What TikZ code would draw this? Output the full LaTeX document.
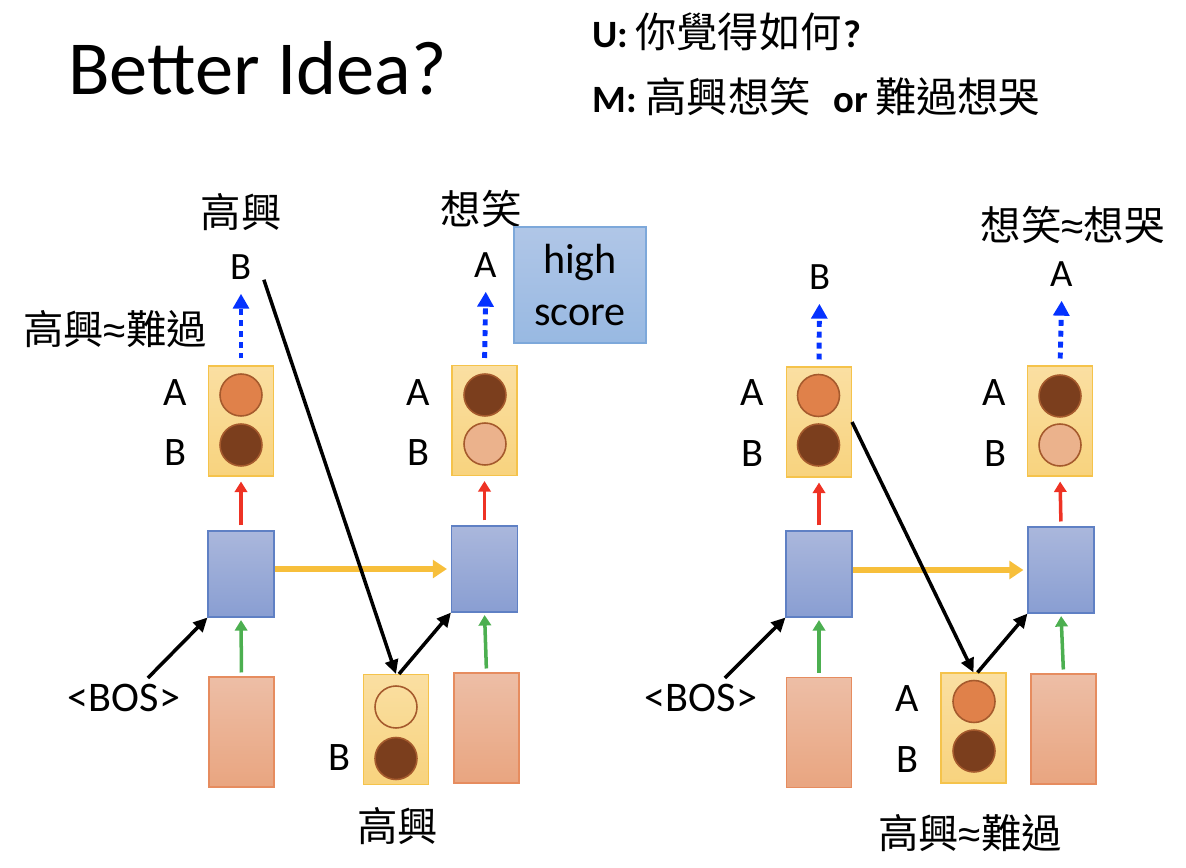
\documentclass[tikz,border=0pt]{standalone}
\usepackage{fontspec}
\setmainfont{Carlito}
\newfontfamily\cjk{Noto Sans CJK TC}
\newfontfamily\symfont{Liberation Sans}
\usetikzlibrary{arrows.meta}
\definecolor{ytop}{RGB}{250,223,162}
\definecolor{ybot}{RGB}{248,211,126}
\definecolor{yline}{RGB}{245,195,75}
\definecolor{btop}{RGB}{170,183,220}
\definecolor{bbot}{RGB}{137,158,210}
\definecolor{bline}{RGB}{95,128,196}
\definecolor{otop}{RGB}{237,190,166}
\definecolor{obot}{RGB}{233,165,128}
\definecolor{oline}{RGB}{230,140,95}
\definecolor{stop}{RGB}{176,198,231}
\definecolor{sbot}{RGB}{152,185,226}
\definecolor{sline}{RGB}{125,168,218}
\definecolor{cA}{RGB}{224,129,74}
\definecolor{cB}{RGB}{123,62,29}
\definecolor{cC}{RGB}{235,178,140}
\definecolor{cline}{RGB}{165,90,45}
\definecolor{arrblue}{RGB}{5,50,255}
\definecolor{arrred}{RGB}{238,50,36}
\definecolor{arrgreen}{RGB}{76,175,80}
\definecolor{arryellow}{RGB}{247,191,59}
\newcommand{\approxsign}{{\symfont ≈}}
\newcommand{\zhbig}[1]{{\fontsize{23.5}{28}\mdseries\cjk #1}}
\tikzset{
	ybox/.style={draw=yline, line width=0.6pt, top color=ytop, bottom color=ybot, minimum width=1.3cm, minimum height=2.2cm, inner sep=0},
	hbox/.style={draw=bline, line width=0.6pt, top color=btop, bottom color=bbot, minimum width=1.32cm, minimum height=1.72cm, inner sep=0},
	ebox/.style={draw=oline, line width=0.6pt, top color=otop, bottom color=obot, minimum width=1.3cm, minimum height=2.2cm, inner sep=0},
	scorebox/.style={draw=sline, line width=0.6pt, top color=stop, bottom color=sbot, minimum width=2.64cm, minimum height=2.32cm, align=center, font=\fontsize{24}{29.5}\selectfont},
	dot/.style={circle, draw=cline, line width=0.9pt, minimum size=0.84cm, inner sep=0},
	lbl/.style={font=\fontsize{23}{27}\selectfont, inner sep=0},
	outlbl/.style={font=\fontsize{22}{26}\selectfont, inner sep=0},
	zh/.style={font=\fontsize{23}{27}\selectfont\cjk, inner sep=0},
	bos/.style={font=\fontsize{24}{28}\selectfont},
	line/.style={anchor=base west, inner sep=0, font=\fontsize{22}{28}\selectfont\bfseries},
	toout/.style={draw=arrblue, line width=2.8pt, dash pattern=on 3.4pt off 2.8pt, -{Triangle[width=9pt,length=8.5pt]}, shorten <=0.14cm, shorten >=0.28cm},
	tohid/.style={draw=arrred, line width=2pt, -{Triangle[width=7pt,length=6pt]}, shorten <=0.1cm, shorten >=0.1cm},
	toin/.style={draw=arrgreen, line width=2pt, -{Triangle[width=7pt,length=6pt]}, shorten <=0.08cm, shorten >=0.05cm},
	torec/.style={draw=arryellow, line width=3pt, -{Triangle[width=10pt,length=8pt]}, shorten >=0.08cm},
	blk/.style={line width=2pt, -{Triangle[width=7.5pt,length=8pt]}}
}
\begin{document}
\begin{tikzpicture}[x=0.02cm, y=-0.02cm]
	\useasboundingbox (0,0) rectangle (1186,868);
	% heading
	\node[anchor=base west, inner sep=0, font=\fontsize{43.5}{50}\selectfont] (title) at (68,95) {Better Idea?};
	\node[line] (u) at (592,48) {U:\hspace{4pt}\zhbig{你覺得如何}\hspace{1pt}?};
	\node[line] (m) at (592,113) {M:\hspace{5pt}\zhbig{高興想笑}\hspace{13pt}or\hspace{4pt}\zhbig{難過想哭}};

	% left: first step
	\node[ybox] (ly1) at (241,421) {};
	\node[dot, fill=cA] (ly1a) at (241,395) {};
	\node[dot, fill=cB] (ly1b) at (241,445) {};
	\node[lbl] (ly1la) at (175,393) {A};
	\node[lbl] (ly1lb) at (175,453) {B};
	\node[hbox] (lh1) at (241,574) {};
	\node[ebox] (le1) at (241.5,732) {};
	\node[outlbl] (lo1) at (241,267) {B};
	\node[zh] (lw1) at (241,212) {高興};
	\node[zh] (lsim) at (115,329) {高興\approxsign 難過};
	\node[bos] (lbos) at (124,698) {<BOS>};
	% left: second step
	\node[ybox] (ly2) at (484.5,420.5) {};
	\node[dot, fill=cB] (ly2a) at (485,395) {};
	\node[dot, fill=cC] (ly2b) at (485,444) {};
	\node[lbl] (ly2la) at (418,393) {A};
	\node[lbl] (ly2lb) at (418,453) {B};
	\node[hbox] (lh2) at (484.5,569) {};
	\node[ebox] (le2) at (486.5,728) {};
	\node[outlbl] (lo2) at (486,265) {A};
	\node[zh] (lw2) at (481,209) {想笑};
	\node[scorebox] (hs) at (580,285) {high\\score};
	% left: fed back
	\node[ybox] (lm) at (396,729.5) {};
	\node[dot] (lma) at (396,707) {};
	\node[dot, fill=cB] (lmb) at (396,758.5) {};
	\node[lbl] (lmlb) at (339,758) {B};
	\node[zh] (lmw) at (397.5,826) {高興};

	\draw[toout] (ly1.north) -- (lo1.south);
	\draw[toout] (ly2.north) -- (lo2.south);
	\draw[tohid] (lh1.north) -- (ly1.south);
	\draw[tohid] (lh2.north) -- (ly2.south);
	\draw[toin] (le1.north) -- (lh1.south);
	\draw[toin] (le2.north) -- (lh2.south);
	\draw[torec] (lh1.east |- lh2.west) -- (lh2.west);
	\draw[blk] (lbos.40) -- (lh1.south west);
	\draw[blk] ([xshift=0.24cm]lo1.south east) -- (lm.north);
	\draw[blk] ([xshift=0.06cm]lm.north) -- (lh2.south west);

	% right: first step
	\node[ybox] (ry1) at (819,422) {};
	\node[dot, fill=cA] (ry1a) at (818.5,395.5) {};
	\node[dot, fill=cB] (ry1b) at (818.5,445) {};
	\node[lbl] (ry1la) at (752,392.5) {A};
	\node[lbl] (ry1lb) at (752,454) {B};
	\node[hbox] (rh1) at (819,574) {};
	\node[ebox] (re1) at (819,732.5) {};
	\node[outlbl] (ro1) at (819.5,277) {B};
	\node[bos] (rbos) at (701,698) {<BOS>};
	% right: second step
	\node[ybox] (ry2) at (1060,421) {};
	\node[dot, fill=cB] (ry2a) at (1060,396) {};
	\node[dot, fill=cC] (ry2b) at (1060,445) {};
	\node[lbl] (ry2la) at (994,392.5) {A};
	\node[lbl] (ry2lb) at (995,454) {B};
	\node[hbox] (rh2) at (1061,570) {};
	\node[ebox] (re2) at (1063.5,729) {};
	\node[outlbl] (ro2) at (1062,274) {A};
	\node[zh] (rw2) at (1072.5,225) {想笑\approxsign 想哭};
	% right: fed back
	\node[ybox] (rm) at (973.5,728) {};
	\node[dot, fill=cA] (rma) at (974,701.5) {};
	\node[dot, fill=cB] (rmb) at (974,751) {};
	\node[lbl] (rmla) at (907,699) {A};
	\node[lbl] (rmlb) at (907,760) {B};
	\node[zh] (rmw) at (970,833) {高興\approxsign 難過};

	\draw[toout] (ry1.north) -- (ro1.south);
	\draw[toout] (ry2.north) -- (ro2.south);
	\draw[tohid] (rh1.north) -- (ry1.south);
	\draw[tohid] (rh2.north) -- (ry2.south);
	\draw[toin] (re1.north) -- (rh1.south);
	\draw[toin] (re2.north) -- (rh2.south);
	\draw[torec] (rh1.east |- rh2.west) -- (rh2.west);
	\draw[blk] (rbos.40) -- (rh1.south west);
	\draw[blk] (ry1.east) -- (rm.north);
	\draw[blk] ([xshift=0.08cm]rm.north) -- (rh2.south west);
\end{tikzpicture}
\end{document}
